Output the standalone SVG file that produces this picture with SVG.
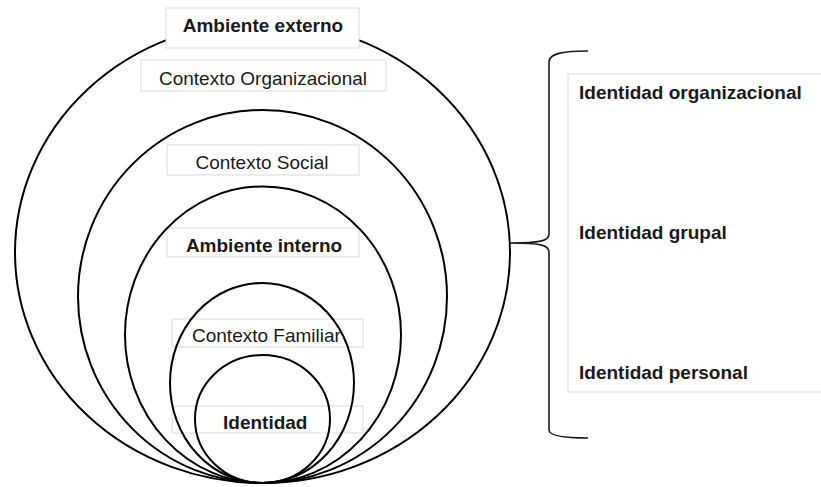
<svg xmlns="http://www.w3.org/2000/svg" width="821" height="487" viewBox="0 0 821 487">
<style>
.ring{fill:none;stroke:#000;stroke-width:2}
.box{fill:none;stroke:#d9d9d9;stroke-width:1}
.wbox{fill:#fff;stroke:#d9d9d9;stroke-width:1}
.t{font-family:"Liberation Sans",Arial,sans-serif;font-size:19px;fill:#1a1a1a}
.b{font-weight:bold}
.brace{fill:none;stroke:#1a1a1a;stroke-width:1.6}
</style>
<rect width="821" height="487" fill="#fff"/>
<g id="labels-boxes">
<rect class="box" x="141" y="60" width="245" height="31"/>
<rect class="box" x="167" y="145" width="192" height="30"/>
<rect class="box" x="167" y="228" width="192" height="29"/>
<rect class="box" x="172" y="319" width="191" height="28"/>
<rect class="box" x="172" y="406" width="191" height="27"/>
<rect class="box" x="568" y="74" width="260" height="318"/>
</g>
<g id="contexto-organizacional"><text class="t" x="263" y="85" text-anchor="middle">Contexto Organizacional</text></g>
<g id="contexto-social"><text class="t" x="262" y="169" text-anchor="middle">Contexto Social</text></g>
<g id="ambiente-interno"><text class="t b" x="264" y="252" text-anchor="middle">Ambiente interno</text></g>
<g id="contexto-familiar"><text class="t" x="192" y="342">Contexto Familiar</text></g>
<g id="identidad"><text class="t b" x="223" y="429">Identidad</text></g>
<g id="circles">
<ellipse class="ring" cx="262.5" cy="252.5" rx="247.5" ry="230.5"/>
<ellipse class="ring" cx="262.5" cy="296.5" rx="184.5" ry="186.5"/>
<ellipse class="ring" cx="263" cy="334.7" rx="138" ry="148.3"/>
<ellipse class="ring" cx="262" cy="383" rx="92" ry="100"/>
<ellipse class="ring" cx="262.5" cy="419" rx="67.5" ry="64"/>
</g>
<g id="ambiente-externo">
<rect class="wbox" x="166" y="8" width="193" height="40"/>
<text class="t b" x="263" y="32" text-anchor="middle">Ambiente externo</text>
</g>
<g id="connectors">
<path class="brace" d="M588,51 C565,51 549,53 549,62 L549,234 C549,241 540,243 510,243 C540,243 549,245 549,252 L549,430 C549,436 565,438 588,438"/>
</g>
<g id="identidades">
<text class="t b" x="579" y="99">Identidad organizacional</text>
<text class="t b" x="579" y="239">Identidad grupal</text>
<text class="t b" x="579" y="379">Identidad personal</text>
</g>
</svg>
